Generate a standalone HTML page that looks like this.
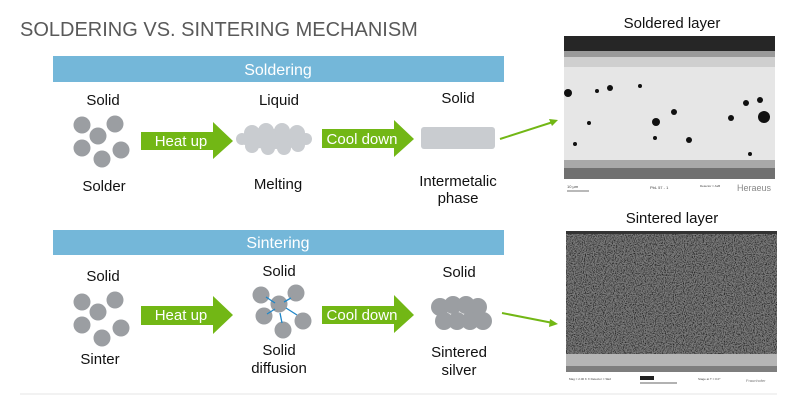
<!DOCTYPE html>
<html><head><meta charset="utf-8"><style>
html,body{margin:0;padding:0;background:#fff;}
body{width:790px;height:404px;overflow:hidden;}
text{font-family:"Liberation Sans",Arial,sans-serif;}
</style></head><body>
<svg width="790" height="404" viewBox="0 0 790 404" xmlns="http://www.w3.org/2000/svg">
<defs>
<filter id="noise" x="0" y="0" width="100%" height="100%">
<feTurbulence type="fractalNoise" baseFrequency="0.9" numOctaves="2" seed="3"/>
<feColorMatrix type="matrix" values="0 0 0 0 0  0 0 0 0 0  0 0 0 0 0  -2.2 0 0 0 1.25"/>
</filter>
</defs>
<text x="20" y="36" font-size="20" fill="#595959">SOLDERING VS. SINTERING MECHANISM</text>

<!-- Soldering bar -->
<rect x="53" y="56" width="451" height="26" fill="#74b7d9"/>
<text x="278" y="75" font-size="16" fill="#fff" text-anchor="middle">Soldering</text>
<g font-size="15" fill="#111" text-anchor="middle">
<text x="103" y="105">Solid</text>
<text x="279" y="105">Liquid</text>
<text x="458" y="103">Solid</text>
<text x="104" y="191">Solder</text>
<text x="278" y="189">Melting</text>
<text x="458" y="186">Intermetalic</text>
<text x="458" y="203">phase</text>
</g>
<g fill="#9b9ea2">
<circle cx="82" cy="125" r="8.5"/><circle cx="115" cy="124" r="8.5"/><circle cx="98" cy="136" r="8.5"/>
<circle cx="82" cy="148" r="8.5"/><circle cx="121" cy="150" r="8.5"/><circle cx="102" cy="159" r="8.5"/>
</g>
<polygon points="141,132 213,132 213,122 233,141 213,159 213,150 141,150" fill="#72b715"/>
<text x="181" y="146" font-size="15" fill="#fff" text-anchor="middle">Heat up</text>
<g fill="#c9ccd0">
<ellipse cx="274" cy="139" rx="36" ry="10"/>
<circle cx="252" cy="133" r="8"/><circle cx="266" cy="131" r="8"/><circle cx="282" cy="131" r="8"/><circle cx="297" cy="133" r="8"/>
<circle cx="252" cy="146" r="7"/><circle cx="268" cy="148" r="7"/><circle cx="284" cy="148" r="7"/><circle cx="298" cy="145" r="7"/>
<circle cx="242" cy="139" r="6"/><circle cx="306" cy="139" r="6"/>
</g>
<polygon points="322,129 394,129 394,120 414,139 394,157 394,148 322,148" fill="#72b715"/>
<text x="362" y="144" font-size="15" fill="#fff" text-anchor="middle">Cool down</text>
<rect x="421" y="127" width="74" height="22" rx="3" fill="#c9ccd0"/>
<line x1="500" y1="139" x2="553" y2="122" stroke="#72b715" stroke-width="2"/>
<polygon points="558,120 549,119 552,126" fill="#72b715"/>

<!-- Sintering bar -->
<rect x="53" y="230" width="451" height="25" fill="#74b7d9"/>
<text x="278" y="248" font-size="16" fill="#fff" text-anchor="middle">Sintering</text>
<g font-size="15" fill="#111" text-anchor="middle">
<text x="103" y="281">Solid</text>
<text x="279" y="276">Solid</text>
<text x="459" y="277">Solid</text>
<text x="100" y="364">Sinter</text>
<text x="279" y="355">Solid</text>
<text x="279" y="373">diffusion</text>
<text x="459" y="357">Sintered</text>
<text x="459" y="375">silver</text>
</g>
<g fill="#9b9ea2">
<circle cx="82" cy="302" r="8.5"/><circle cx="115" cy="300" r="8.5"/><circle cx="98" cy="312" r="8.5"/>
<circle cx="82" cy="325" r="8.5"/><circle cx="121" cy="328" r="8.5"/><circle cx="102" cy="338" r="8.5"/>
</g>
<polygon points="141,306 213,306 213,296 233,315 213,334 213,325 141,325" fill="#72b715"/>
<text x="181" y="320" font-size="15" fill="#fff" text-anchor="middle">Heat up</text>
<g fill="#9b9ea2">
<circle cx="261" cy="295" r="8.5"/><circle cx="296" cy="293" r="8.5"/><circle cx="279" cy="304" r="8.5"/>
<circle cx="264" cy="316" r="8.5"/><circle cx="303" cy="321" r="8.5"/><circle cx="283" cy="330" r="8.5"/>
</g>
<g stroke="#1f86c8" stroke-width="1.3">
<line x1="266" y1="297" x2="275" y2="303"/><line x1="291" y1="298" x2="284" y2="302"/>
<line x1="267" y1="314" x2="275" y2="309"/><line x1="297" y1="315" x2="286" y2="308"/>
<line x1="282" y1="323" x2="280" y2="313"/>
</g>
<polygon points="322,306 394,306 394,295 414,315 394,333 394,324 322,324" fill="#72b715"/>
<text x="362" y="320" font-size="15" fill="#fff" text-anchor="middle">Cool down</text>
<g fill="#9b9ea2">
<circle cx="440" cy="307" r="9"/><circle cx="453" cy="305" r="9"/><circle cx="466" cy="305" r="9"/><circle cx="478" cy="307" r="9"/>
<circle cx="444" cy="321" r="9"/><circle cx="457" cy="321" r="9"/><circle cx="470" cy="321" r="9"/><circle cx="483" cy="321" r="9"/>
</g>
<line x1="502" y1="313" x2="553" y2="323" stroke="#72b715" stroke-width="2"/>
<polygon points="558,324 550,319 549,327" fill="#72b715"/>

<!-- Soldered image -->
<text x="672" y="28" font-size="15" fill="#111" text-anchor="middle">Soldered layer</text>
<rect x="564" y="36" width="211" height="143" fill="#e6e6e6"/>
<rect x="564" y="36" width="211" height="15" fill="#262626"/>
<rect x="564" y="51" width="211" height="6" fill="#9a9a9a"/>
<rect x="564" y="57" width="211" height="10" fill="#cfcfcf"/>
<rect x="564" y="160" width="211" height="8" fill="#a8a8a8"/>
<rect x="564" y="168" width="211" height="11" fill="#707070"/>
<g fill="#111">
<circle cx="568" cy="93" r="4"/><circle cx="610" cy="88" r="3"/><circle cx="597" cy="91" r="2"/>
<circle cx="656" cy="122" r="4"/><circle cx="674" cy="112" r="3"/><circle cx="689" cy="140" r="3"/>
<circle cx="764" cy="117" r="6"/><circle cx="746" cy="103" r="3"/><circle cx="760" cy="100" r="3"/>
<circle cx="731" cy="118" r="3"/><circle cx="655" cy="138" r="2"/><circle cx="575" cy="144" r="2"/>
<circle cx="589" cy="123" r="2"/><circle cx="750" cy="154" r="2"/><circle cx="640" cy="86" r="2"/>
</g>
<rect x="564" y="179" width="211" height="16" fill="#fff"/>
<text x="567" y="188" font-size="4" fill="#444">10 µm</text>
<line x1="567" y1="191" x2="589" y2="191" stroke="#444" stroke-width="0.8"/>
<text x="650" y="189" font-size="4" fill="#444">PbL 57 - 1</text>
<text x="700" y="187" font-size="3" fill="#444">Detector = AsB</text>
<text x="737" y="191" font-size="9" fill="#888">Heraeus</text>

<!-- Sintered image -->
<text x="672" y="223" font-size="15" fill="#111" text-anchor="middle">Sintered layer</text>
<rect x="566" y="231" width="211" height="126" fill="#7a7a7a"/>
<rect x="566" y="231" width="211" height="126" filter="url(#noise)"/>
<rect x="566" y="231" width="211" height="3" fill="#333"/>
<rect x="566" y="354" width="211" height="12" fill="#b5b5b5"/>
<rect x="566" y="366" width="211" height="6" fill="#7e7e7e"/>
<rect x="566" y="372" width="211" height="17" fill="#fff"/>
<text x="569" y="380" font-size="3" fill="#444">Mag = 2.00 K X   Detector = SE2</text>
<rect x="640" y="376" width="14" height="4" fill="#222"/>
<line x1="640" y1="383" x2="677" y2="383" stroke="#333" stroke-width="0.8"/>
<text x="698" y="380" font-size="3" fill="#444">Stage at T = 0.0°</text>
<text x="746" y="382" font-size="4" fill="#777">Fraunhofer</text>

<line x1="20" y1="394" x2="777" y2="394" stroke="#e4e4e4" stroke-width="1"/>
</svg>
</body></html>
